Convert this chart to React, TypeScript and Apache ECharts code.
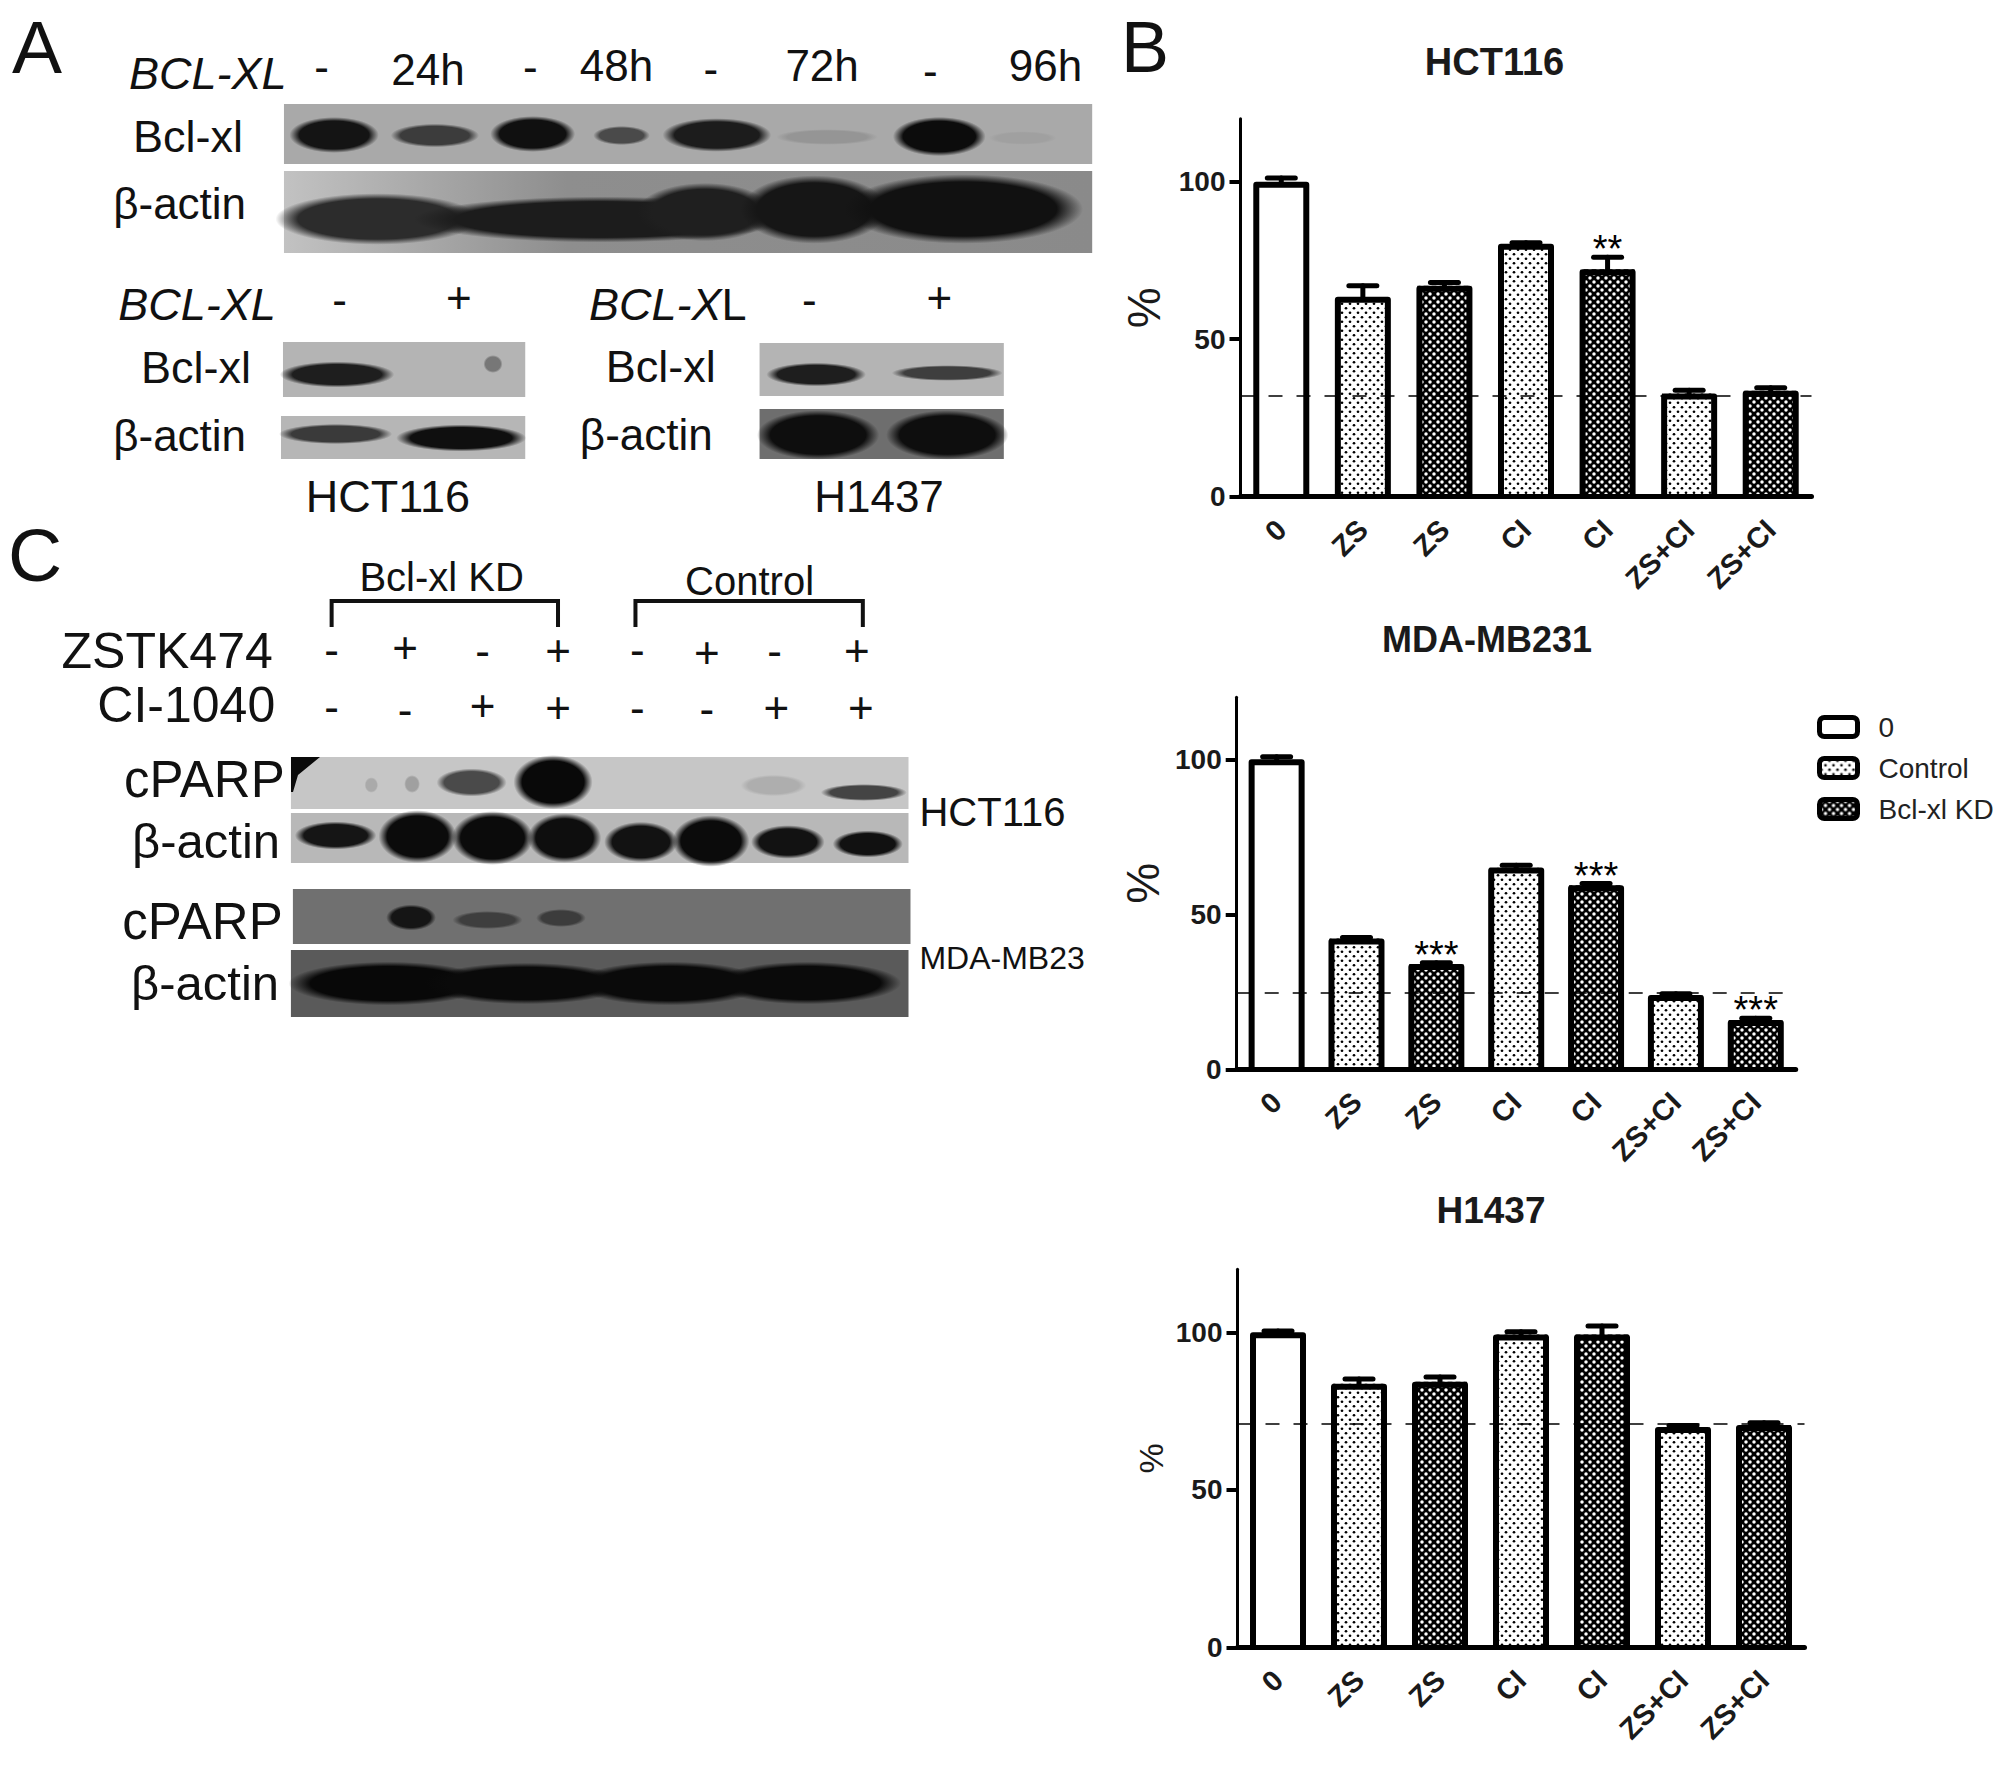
import React, { useEffect, useRef } from "react";
import * as echarts from "echarts";

const FONT = "Liberation Sans";

// ---------- chart data ----------
const categories = ["0", "ZS", "ZS", "CI", "CI", "ZS+CI", "ZS+CI"];
const seriesNames = ["0", "Control", "Bcl-xl KD"];
const barGroup = [0, 1, 2, 1, 2, 1, 2];
const yTicks = [0, 50, 100];

const hct116Values = [100, 63.5, 67, 80.3, 72.2, 32.8, 33.6];
const hct116Tops = [101.2, 67, 68, 80.6, 76, 33.8, 34.6];
const hct116Stars = ["", "", "", "", "**", "", ""];
const hct116Dash = 32.2;

const mdaValues = [100, 42.2, 34, 65.1, 59.4, 24, 15.9];
const mdaTops = [100.8, 42.5, 34.4, 65.8, 59.9, 24.4, 16.5];
const mdaStars = ["", "", "***", "", "***", "", "***"];
const mdaDash = 24.7;

const h1437Values = [100, 83.7, 84.3, 99.3, 99.3, 69.9, 70.6];
const h1437Tops = [100.4, 85.2, 85.8, 100.2, 102, 70.4, 71.3];
const h1437Stars = ["", "", "", "", "", "", ""];
const h1437Dash = 71;

// ---------- western blot layout (pictures, not data) ----------
const SX = 0.9929;
type Band = [number, number, number, number, string];
type Blot = { x1: number; y1: number; x2: number; y2: number; bg: string | string[]; bands: Band[] };

const blots: Blot[] = [
  { x1: 286, y1: 104, x2: 1100, y2: 164, bg: "#a9a9a9", bands: [
    [297, 119, 376, 151, "#141414"], [399, 125, 477, 146, "#3c3c3c"], [499, 118, 574, 150, "#101010"],
    [601, 127, 651, 144, "#4a4a4a"], [674, 120, 770, 150, "#1c1c1c"], [788, 130, 878, 144, "#959595"],
    [905, 119, 987, 154, "#0c0c0c"], [1000, 132, 1060, 144, "#a0a0a0"],
  ] },
  { x1: 286, y1: 171, x2: 1100, y2: 253, bg: ["#c2c2c2", "#8e8e8e", "#8a8a8a"], bands: [
    [290, 196, 470, 242, "#2c2c2c"], [440, 199, 770, 240, "#1c1c1c"], [650, 186, 770, 238, "#1f1f1f"],
    [755, 179, 885, 240, "#161616"], [865, 178, 1076, 240, "#111111"],
  ] },
  { x1: 285, y1: 342, x2: 529, y2: 397, bg: "#b4b4b4", bands: [
    [289, 363, 390, 386, "#1e1e1e"], [488, 356, 505, 372, "#777777"],
  ] },
  { x1: 283, y1: 416, x2: 529, y2: 459, bg: "#b6b6b6", bands: [
    [288, 425, 388, 443, "#3a3a3a"], [407, 426, 522, 450, "#0f0f0f"],
  ] },
  { x1: 765, y1: 343, x2: 1011, y2: 396, bg: "#b4b4b4", bands: [
    [778, 364, 866, 385, "#1e1e1e"], [905, 366, 1003, 380, "#3e3e3e"],
  ] },
  { x1: 765, y1: 409, x2: 1011, y2: 459, bg: "#6e6e6e", bands: [
    [770, 413, 878, 457, "#0e0e0e"], [900, 413, 1008, 457, "#0e0e0e"],
  ] },
  { x1: 293, y1: 757, x2: 915, y2: 809, bg: "#c6c6c6", bands: [
    [368, 778, 380, 792, "#aaaaaa"], [408, 776, 422, 792, "#a0a0a0"], [444, 770, 506, 795, "#4a4a4a"],
    [522, 758, 592, 806, "#090909"], [750, 776, 808, 795, "#aeaeae"], [832, 785, 908, 800, "#444444"],
  ] },
  { x1: 293, y1: 813, x2: 915, y2: 863, bg: "#b8b8b8", bands: [
    [302, 823, 374, 848, "#151515"], [386, 813, 455, 860, "#0b0b0b"], [460, 814, 532, 862, "#0b0b0b"],
    [536, 816, 601, 860, "#0e0e0e"], [613, 824, 678, 860, "#121212"], [682, 818, 750, 864, "#0b0b0b"],
    [761, 827, 826, 857, "#121212"], [843, 832, 905, 856, "#111111"],
  ] },
  { x1: 295, y1: 889, x2: 917, y2: 944, bg: "#707070", bands: [
    [392, 906, 436, 929, "#151515"], [460, 912, 522, 928, "#3e3e3e"], [543, 910, 587, 926, "#3c3c3c"],
  ] },
  { x1: 293, y1: 950, x2: 915, y2: 1017, bg: "#5a5a5a", bands: [
    [303, 964, 480, 1003, "#080808"], [440, 965, 620, 1002, "#0a0a0a"], [590, 964, 760, 1003, "#0a0a0a"], [730, 964, 896, 1002, "#0a0a0a"],
  ] },
];

type Lbl = [string, number, number, number];
const panelLetters: Lbl[] = [
  ["A", 12, 73, 75], ["C", 8, 581, 75], ["B", 1121, 72, 72],
];
// text, left x, baseline y, font size
const plainLabels: Lbl[] = [
  ["24h", 394, 85, 44], ["48h", 584, 81, 44], ["72h", 791, 81, 44], ["96h", 1016, 81, 44],
  ["Bcl-xl", 134, 152, 45], ["β-actin", 114, 219, 44],
  ["Bcl-xl", 142, 383, 45], ["β-actin", 114, 451, 44],
  ["Bcl-xl", 610, 382, 45], ["β-actin", 584, 450, 44],
  ["HCT116", 308, 512, 45], ["H1437", 820, 512, 44],
  ["Bcl-xl KD", 362, 591, 40], ["Control", 690, 595, 40],
  ["ZSTK474", 62, 668, 50], ["CI-1040", 98, 722, 50],
  ["cPARP", 125, 797, 51], ["β-actin", 133, 858, 49], ["HCT116", 926, 826, 40],
  ["cPARP", 123, 939, 51], ["β-actin", 132, 1000, 49], ["MDA-MB23", 926, 969, 32],
];
const italicLabels: Lbl[] = [
  ["BCL-XL", 130, 89, 45], ["BCL-XL", 119, 320, 45],
];
// sign, centre x, centre y, font size
const signLabels: Lbl[] = [
  ["-", 324, 69, 44], ["-", 534, 69, 44], ["-", 716, 71, 44], ["-", 937, 73, 44],
  ["-", 342, 302, 44], ["+", 462, 300, 44], ["-", 815, 302, 44], ["+", 946, 300, 44],
  ["-", 334, 652, 44], ["+", 408, 650, 44], ["-", 486, 653, 44], ["+", 562, 653, 44],
  ["-", 642, 652, 44], ["+", 712, 655, 44], ["-", 780, 653, 44], ["+", 863, 653, 44],
  ["-", 334, 709, 44], ["-", 408, 712, 44], ["+", 486, 708, 44], ["+", 562, 710, 44],
  ["-", 642, 710, 44], ["-", 712, 711, 44], ["+", 782, 710, 44], ["+", 867, 710, 44],
];
const brackets = [
  [334, 562, 601, 627],
  [640, 869, 601, 627],
];

// ---------- helpers ----------
function tile(w: number, h: number, bg: string, fg: string, dots: number[][], r: number) {
  const c = document.createElement("canvas");
  c.width = w;
  c.height = h;
  const g = c.getContext("2d")!;
  g.fillStyle = bg;
  g.fillRect(0, 0, w, h);
  g.fillStyle = fg;
  dots.forEach(([x, y]) => {
    g.beginPath();
    g.arc(x, y, r, 0, Math.PI * 2);
    g.fill();
  });
  return c;
}

function bandEl(b: Band) {
  const [x1, y1, x2, y2, color] = b;
  return {
    type: "ellipse",
    shape: { cx: (SX * (x1 + x2)) / 2, cy: (y1 + y2) / 2, rx: (SX * (x2 - x1) * 1.14) / 2, ry: ((y2 - y1) * 1.12) / 2 },
    style: {
      fill: {
        type: "radial", x: 0.5, y: 0.5, r: 0.5,
        colorStops: [{ offset: 0, color }, { offset: 0.78, color }, { offset: 1, color: color + "00" }],
      },
    },
    silent: true,
  };
}

function blotEls(b: Blot) {
  const fill = Array.isArray(b.bg)
    ? { type: "linear", x: 0, y: 0, x2: 1, y2: 0, colorStops: b.bg.map((c, i) => ({ offset: i === 0 ? 0 : i === 1 ? 0.35 : 1, color: c })) }
    : b.bg;
  return [
    { type: "rect", shape: { x: b.x1 * SX, y: b.y1, width: (b.x2 - b.x1) * SX, height: b.y2 - b.y1 }, style: { fill }, silent: true },
    ...b.bands.map(bandEl),
  ];
}

function textEl(text: string, x: number, baseline: number, size: number, italic = false) {
  return {
    type: "text", x, y: baseline - 0.346 * size, silent: true,
    style: { text, fill: "#111", fontFamily: FONT, fontSize: size, fontStyle: italic ? "italic" : "normal", align: "left", verticalAlign: "middle" },
  };
}

function signEl(text: string, x: number, y: number, size: number) {
  return {
    type: "text", x, y: y - 0.05 * size, silent: true,
    style: { text, fill: "#111", fontFamily: FONT, fontSize: size, align: "center", verticalAlign: "middle" },
  };
}

type Panel = {
  title: string; titleX: number; titleY: number; titleSize: number;
  left: number; top: number; width: number; height: number;
  values: number[]; tops: number[]; stars: string[]; dash: number;
  pctSize: number; pctGap: number;
};

const panels: Panel[] = [
  { title: "HCT116", titleX: 1489.5, titleY: 38, titleSize: 38, left: 1240.5, top: 118.7, width: 571, height: 378,
    values: hct116Values, tops: hct116Tops, stars: hct116Stars, dash: hct116Dash, pctSize: 46, pctGap: 74 },
  { title: "MDA-MB231", titleX: 1482, titleY: 616, titleSize: 36, left: 1236.7, top: 697.3, width: 559, height: 372,
    values: mdaValues, tops: mdaTops, stars: mdaStars, dash: mdaDash, pctSize: 46, pctGap: 71 },
  { title: "H1437", titleX: 1486, titleY: 1187, titleSize: 37, left: 1237.5, top: 1269.3, width: 567, height: 378,
    values: h1437Values, tops: h1437Tops, stars: h1437Stars, dash: h1437Dash, pctSize: 34, pctGap: 70 },
];

const BAR_OUTER = 56;
const BAR_STROKE = 6;

export default function App() {
  const ref = useRef<HTMLDivElement>(null);
  useEffect(() => {
    const chart = echarts.init(ref.current!, undefined, { renderer: "svg" });
    const fills: any[] = [
      "#ffffff",
      { image: tile(8, 9, "#ffffff", "#000000", [[2, 2.25], [6, 6.75]], 1.35), repeat: "repeat" },
      { image: tile(8, 8, "#000000", "#ffffff", [[2, 2], [6, 6]], 1.75), repeat: "repeat" },
    ];

    const series: any[] = [];
    panels.forEach((p, pi) => {
      seriesNames.forEach((name, g) => {
        series.push({
          name, type: "bar", xAxisIndex: pi, yAxisIndex: pi, stack: "p" + pi, barWidth: BAR_OUTER - 2,
          itemStyle: { color: fills[g] },
          data: p.values.map((v, i) => (barGroup[i] === g ? v : null)),
        });
      });
      series.push({
        type: "custom", xAxisIndex: pi, yAxisIndex: pi, z: 5,
        encode: { x: 0, y: 1 },
        data: p.tops.map((t, i) => [i, t, p.values[i]]),
        renderItem: (params: any, api: any) => {
          const i = api.value(0);
          const top = api.coord([i, api.value(1)]);
          const base = api.coord([i, api.value(2)]);
          const zero = api.coord([i, 0]);
          const half = (BAR_OUTER - BAR_STROKE) / 2;
          const line = (x1: number, y1: number, x2: number, y2: number) => ({
            type: "line", shape: { x1, y1, x2, y2 },
            style: { stroke: "#000", lineWidth: 5, lineCap: "round" },
          });
          const barTop = base[1] + BAR_STROKE / 2;
          const children: any[] = [
            {
              type: "polyline",
              shape: { points: [[top[0] - half, zero[1]], [top[0] - half, barTop], [top[0] + half, barTop], [top[0] + half, zero[1]]] },
              style: { stroke: "#000", lineWidth: BAR_STROKE, fill: "none", lineJoin: "round" },
            },
            line(top[0], base[1], top[0], top[1]),
            line(top[0] - 14, top[1], top[0] + 14, top[1]),
          ];
          const star = p.stars[i];
          if (star) {
            children.push({
              type: "text", x: top[0], y: top[1] - 8,
              style: { text: star, fill: "#000", fontFamily: FONT, fontSize: 38, align: "center", verticalAlign: "middle" },
            });
          }
          return { type: "group", children };
        },
        markLine: {
          silent: true, symbol: "none", animation: false,
          label: { show: false },
          lineStyle: { color: "#000", width: 1.5, type: [14, 14] },
          data: [{ yAxis: p.dash }],
        },
      });
    });

    const graphic: any[] = [];
    blots.forEach((b) => graphic.push(...blotEls(b)));
    panelLetters.forEach(([t, x, y, s]) => graphic.push(textEl(t, x, y, s)));
    plainLabels.forEach(([t, x, y, s]) => graphic.push(textEl(t, x * SX, y, s)));
    italicLabels.forEach(([t, x, y, s]) => graphic.push(textEl(t, x * SX, y, s, true)));
    signLabels.forEach(([t, x, y, s]) => graphic.push(signEl(t, x * SX, y, s)));
    graphic.push({
      type: "text", x: 589, y: 320 - 0.346 * 45, silent: true,
      style: {
        text: "{i|BCL-X}{r|L}", fill: "#111", align: "left", verticalAlign: "middle",
        fontFamily: FONT, fontSize: 45,
        rich: {
          i: { fontFamily: FONT, fontSize: 45, fontStyle: "italic", fill: "#111" },
          r: { fontFamily: FONT, fontSize: 45, fill: "#111" },
        },
      },
    });
    brackets.forEach(([x1, x2, y1, y2]) =>
      graphic.push({
        type: "polyline", silent: true,
        shape: { points: [[x1 * SX, y2], [x1 * SX, y1], [x2 * SX, y1], [x2 * SX, y2]] },
        style: { stroke: "#111", lineWidth: 4, fill: "none" },
      })
    );
    // dark corner smear on the first cPARP blot
    graphic.push({
      type: "polygon", silent: true,
      shape: { points: [[291, 757], [320, 757], [298, 775], [293, 792], [291, 792]] },
      style: { fill: "#0a0a0a" },
    });

    chart.setOption({
      animation: false,
      backgroundColor: "#ffffff",
      title: panels.map((p) => ({
        text: p.title, left: p.titleX, top: p.titleY, textAlign: "center",
        textStyle: { fontFamily: FONT, fontWeight: "bold", fontSize: p.titleSize, color: "#1a1a1a" },
      })),
      grid: panels.map((p) => ({ left: p.left, top: p.top, width: p.width, height: p.height, containLabel: false })),
      xAxis: panels.map((_, i) => ({
        type: "category", gridIndex: i, data: categories, z: 6,
        axisLine: { lineStyle: { color: "#000", width: 5 } },
        axisTick: { alignWithLabel: true, length: 12, lineStyle: { color: "#000", width: 4 } },
        axisLabel: { interval: 0, rotate: 45, margin: 28, fontFamily: FONT, fontWeight: "bold", fontSize: 29, color: "#1a1a1a" },
      })),
      yAxis: panels.map((p, i) => ({
        type: "value", gridIndex: i, min: 0, max: 120,
        name: "%", nameLocation: "middle", nameGap: p.pctGap, nameRotate: 90,
        nameTextStyle: { fontFamily: FONT, fontSize: p.pctSize, color: "#1a1a1a" },
        splitLine: { show: false },
        axisLine: { show: true, lineStyle: { color: "#000", width: 3 } },
        axisTick: { show: true, length: 11, customValues: yTicks, lineStyle: { color: "#000", width: 4 } },
        axisLabel: { margin: 15, customValues: yTicks, fontFamily: FONT, fontWeight: "bold", fontSize: 28, color: "#1a1a1a" },
      })),
      legend: {
        orient: "vertical", left: 1812, top: 708, itemWidth: 38, itemHeight: 19, itemGap: 13,
        icon: "roundRect", selectedMode: false,
        textStyle: { fontFamily: FONT, fontSize: 28, color: "#222", padding: [0, 0, 0, 16] },
        data: seriesNames.map((name, g) => ({
          name, itemStyle: { color: fills[g], borderColor: "#000", borderWidth: 5 },
        })),
      },
      graphic: { elements: graphic },
      series,
    });
    return () => chart.dispose();
  }, []);
  return <div ref={ref} style={{ position: "absolute", left: 0, top: 0, width: 2008, height: 1774 }} />;
}
